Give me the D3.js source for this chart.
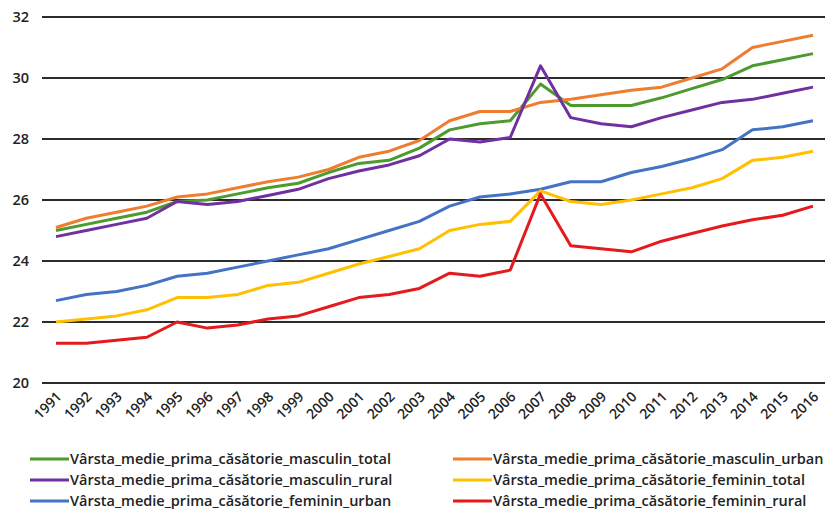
<!DOCTYPE html>
<html><head><meta charset="utf-8">
<script src="https://cdn.jsdelivr.net/npm/d3@7"></script>
<style>
body{margin:0;background:#fff;}
svg{display:block;font-family:"Open Sans","Noto Sans",sans-serif;}
</style></head>
<body>
<svg id="chart" width="825" height="513"></svg>
<script>
const years = [1991,1992,1993,1994,1995,1996,1997,1998,1999,2000,2001,2002,2003,2004,2005,2006,2007,2008,2009,2010,2011,2012,2013,2014,2015,2016];
const yTicks = [20,22,24,26,28,30,32];

const masculinTotal = [25.0,25.2,25.4,25.6,25.95,26.0,26.2,26.4,26.55,26.9,27.2,27.3,27.7,28.3,28.5,28.6,29.8,29.1,29.1,29.1,29.35,29.65,29.95,30.4,30.6,30.8];
const masculinUrban = [25.1,25.4,25.6,25.8,26.1,26.2,26.4,26.6,26.75,27.0,27.4,27.6,27.95,28.6,28.9,28.9,29.2,29.3,29.45,29.6,29.7,30.0,30.3,31.0,31.2,31.4];
const masculinRural = [24.8,25.0,25.2,25.4,25.95,25.85,25.95,26.15,26.35,26.7,26.95,27.15,27.45,28.0,27.9,28.05,30.4,28.7,28.5,28.4,28.7,28.95,29.2,29.3,29.5,29.7];
const femininTotal = [22.0,22.1,22.2,22.4,22.8,22.8,22.9,23.2,23.3,23.6,23.9,24.15,24.4,25.0,25.2,25.3,26.3,25.95,25.85,26.0,26.2,26.4,26.7,27.3,27.4,27.6];
const femininUrban = [22.7,22.9,23.0,23.2,23.5,23.6,23.8,24.0,24.2,24.4,24.7,25.0,25.3,25.8,26.1,26.2,26.35,26.6,26.6,26.9,27.1,27.35,27.65,28.3,28.4,28.6];
const femininRural = [21.3,21.3,21.4,21.5,22.0,21.8,21.9,22.1,22.2,22.5,22.8,22.9,23.1,23.6,23.5,23.7,26.2,24.5,24.4,24.3,24.65,24.9,25.15,25.35,25.5,25.8];

const seriesNames = [
  "Vârsta_medie_prima_căsătorie_masculin_total",
  "Vârsta_medie_prima_căsătorie_masculin_urban",
  "Vârsta_medie_prima_căsătorie_masculin_rural",
  "Vârsta_medie_prima_căsătorie_feminin_total",
  "Vârsta_medie_prima_căsătorie_feminin_urban",
  "Vârsta_medie_prima_căsătorie_feminin_rural"
];
const seriesValues = [masculinTotal, masculinUrban, masculinRural, femininTotal, femininUrban, femininRural];
const colors = ["#4d9a2f","#ee7d2f","#7030a0","#ffc000","#4472c4","#e41a1c"];

const svg = d3.select("#chart");
const plotLeft = 42, plotRight = 825, plotTop = 17, plotBottom = 383;

const x = d3.scalePoint().domain(years).range([56, 813]);
const y = d3.scaleLinear().domain([20,32]).range([plotBottom, plotTop]);

// grid lines
svg.append("g").selectAll("line").data(yTicks).join("line")
  .attr("x1", plotLeft).attr("x2", plotRight)
  .attr("y1", d => y(d)).attr("y2", d => y(d))
  .attr("stroke", "#2b2b2b").attr("stroke-width", 2);

// y labels
svg.append("g").selectAll("text").data(yTicks).join("text")
  .attr("x", 29).attr("y", d => y(d)).attr("dy", "0.35em")
  .attr("text-anchor", "end").attr("font-size", 14.5).attr("font-weight", 600).attr("fill", "#222")
  .text(d => d);

// x labels
svg.append("g").selectAll("text").data(years).join("text")
  .attr("transform", d => `translate(${x(d)+3},${plotBottom+11}) rotate(-45)`)
  .attr("text-anchor", "end").attr("dy", "0.35em")
  .attr("font-size", 14).attr("font-weight", 600).attr("fill", "#222")
  .text(d => d);

// lines
const line = d3.line().x((d,i) => x(years[i])).y(d => y(d));
const order = [4,3,5,0,1,2];
svg.append("g").selectAll("path").data(order).join("path")
  .attr("d", i => line(seriesValues[i]))
  .attr("fill", "none").attr("stroke", i => colors[i])
  .attr("stroke-width", 3).attr("stroke-linejoin", "round");

// legend
const legendPos = [
  {x:30, y:459},{x:453, y:459},
  {x:30, y:480},{x:453, y:480},
  {x:30, y:501},{x:453, y:501}
];
const lg = svg.append("g").selectAll("g").data(seriesNames).join("g")
  .attr("transform", (d,i) => `translate(${legendPos[i].x},${legendPos[i].y})`);
lg.append("line").attr("x1",0).attr("x2",39).attr("y1",0).attr("y2",0)
  .attr("stroke",(d,i)=>colors[i]).attr("stroke-width",3);
lg.append("text").attr("x",40).attr("dy","0.35em").attr("font-size",14.5).attr("font-weight",600).attr("fill","#222")
  .text(d=>d);
</script>
</body></html>
